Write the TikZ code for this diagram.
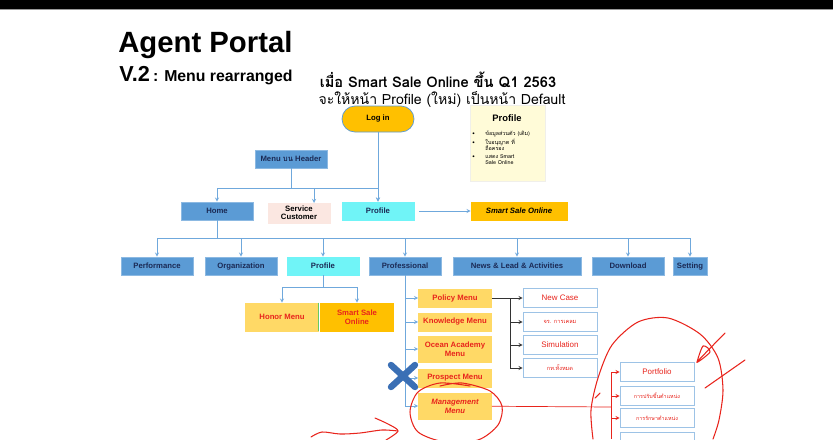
\documentclass[tikz,border=0pt]{standalone}
\usepackage{fontspec}
\setmainfont{Liberation Sans}
\newfontfamily\thaifont[Script=Thai]{Loma}
\usetikzlibrary{arrows,positioning,calc}

\definecolor{menublue}{HTML}{5B9BD5}
\definecolor{navytext}{HTML}{1B2A55}
\definecolor{linkblue}{HTML}{6FA8DC}
\definecolor{newcyan}{HTML}{70F4F7}
\definecolor{subyellow}{HTML}{FFD966}
\definecolor{gold}{HTML}{FFC000}
\definecolor{svcpink}{HTML}{FBE7E1}
\definecolor{notebg}{HTML}{FFFBD8}
\definecolor{leafedge}{HTML}{9DC3E6}
\definecolor{inkred}{HTML}{E8241C}
\definecolor{crossblue}{HTML}{3A6FB5}

\newcommand{\boxfont}{\bfseries\fontsize{6.6}{7}\selectfont}

\begin{document}
\begin{tikzpicture}[x=0.03cm, y=-0.03cm, >=stealth, semithick]
    \tikzset{
        boxbase/.style={rectangle, minimum height=0.54cm, minimum width=2.16cm, align=center, inner sep=1pt},
        hdr/.style={boxbase, draw=menublue!70!white, fill=menublue, font=\boxfont, text=navytext, text height=5pt, text depth=1.5pt},
        newpage/.style={hdr, draw=newcyan, fill=newcyan},
        svc/.style={boxbase, draw=svcpink, fill=svcpink, minimum width=1.86cm, minimum height=0.6cm, font=\bfseries\fontsize{6.6}{7}\selectfont, text=black},
        sso/.style={hdr, draw=gold, fill=gold, minimum width=2.88cm, text=black, font=\bfseries\itshape\fontsize{6.6}{7}\selectfont},
        sub/.style={boxbase, draw=subyellow, fill=subyellow, minimum width=2.19cm, font=\bfseries\fontsize{6.6}{7.8}\selectfont, text=inkred},
        leaf/.style={boxbase, draw=leafedge, fill=white, minimum height=0.57cm, minimum width=2.22cm, font=\fontsize{6.8}{7}\selectfont, text=inkred},
        line/.style={draw=linkblue, ->, >=stealth},
        plain/.style={draw=linkblue},
        blackline/.style={draw=black!80, ->, >=stealth},
        redline/.style={draw=inkred, ->, >=stealth},
        ink/.style={draw=inkred, line width=0.9pt, line cap=round, line join=round}
    }
    \useasboundingbox (0,0) rectangle (833,439);

    % Top bar of the screen
    \fill[black] (0,0) rectangle (833,9);
    \draw[black!40, line width=0.8pt] (0,9.5) -- (833,9.5);

    % Titles
    \node[anchor=base west, inner sep=0pt, font=\bfseries\fontsize{25}{28}\selectfont] (title) at (118,52) {Agent Portal};
    \node[anchor=base west, inner sep=0pt] (version) at (119,81) {{\bfseries\fontsize{18.5}{20}\selectfont V.2} {\bfseries\fontsize{13.5}{15}\selectfont : Menu rearranged}};
    \node[font=\thaifont\bfseries\fontsize{12.5}{14}\selectfont, inner sep=0pt] (when) at (438,80) {เมื่อ Smart Sale Online ขึ้น Q1 2563};
    \node[font=\thaifont\fontsize{12}{14}\selectfont, inner sep=0pt] (default) at (442,99) {จะให้หน้า Profile (ใหม่) เป็นหน้า Default};

    % Log in and the note on the new Profile page
    \node[draw=menublue, fill=gold, rounded corners=0.39cm, minimum width=2.16cm, minimum height=0.78cm, font=\boxfont, text=black] (login) at (378,119) {Log in};
    \node[draw=notebg!70!black!20, fill=notebg, anchor=north west, minimum width=2.25cm, minimum height=2.28cm] (note) at (470,105) {};
    \node[font=\bfseries\fontsize{8}{9}\selectfont] (notetitle) at (507,118) {Profile};
    \node[anchor=north west, inner sep=0pt, font=\thaifont\fontsize{4.6}{5.2}\selectfont, align=left] (notelist) at (472,131) {\begin{tabular}{@{}l@{\hspace{9pt}}l@{}}
        \textbullet & ข้อมูลส่วนตัว (เดิม)\\[1pt]
        \textbullet & ใบอนุญาต ที่\\
                    & ถือครอง\\[1pt]
        \textbullet & แสดง Smart\\
                    & Sale Online
    \end{tabular}};

    % Header row
    \node[hdr] (header) at (291,159) {Menu {\thaifont บน} Header};
    \node[hdr] (home) at (217,211) {Home};
    \node[svc] (service) at (299,213) {Service\\Customer};
    \node[newpage] (profile) at (378,211) {Profile};
    \node[sso] (smartsale) at (519,211) {Smart Sale Online};

    % Menu row under Home
    \node[hdr] (perf) at (157,266) {Performance};
    \node[hdr] (org) at (241,266) {Organization};
    \node[newpage] (profile2) at (323,266) {Profile};
    \node[hdr] (prof) at (405,266) {Professional};
    \node[hdr, minimum width=3.84cm] (news) at (517,266) {News \& Lead \& Activities};
    \node[hdr] (download) at (628,266) {Download};
    \node[hdr, minimum width=1.02cm] (setting) at (690,266) {Setting};

    % Under the new Profile
    \node[sub, minimum height=0.84cm] (honor) at (282,317) {Honor Menu};
    \node[sub, draw=gold, fill=gold, minimum height=0.84cm] (smartsale2) at (357,317) {Smart Sale\\Online};
    \draw[black!35!green!60, line width=1pt] (honor.north east) -- (honor.south east);

    % Under Professional
    \node[sub] (policy) at (455,298) {Policy Menu};
    \node[sub] (knowledge) at (455,322) {Knowledge Menu};
    \node[sub, minimum height=0.78cm] (ocean) at (455,349) {Ocean Academy\\Menu};
    \node[sub] (prospect) at (455,378) {Prospect Menu};
    \node[sub, minimum height=0.78cm, font=\bfseries\itshape\fontsize{6.6}{7.8}\selectfont] (mgmt) at (455,406) {Management\\Menu};

    % Under Policy Menu
    \node[leaf] (newcase) at (560,298) {New Case};
    \node[leaf, font=\thaifont\fontsize{4.8}{6}\selectfont] (compare) at (560,322) {จร. การเคลม};
    \node[leaf] (simulation) at (560,345) {Simulation};
    \node[leaf, font=\thaifont\fontsize{4.8}{6}\selectfont] (allplans) at (560,368) {กท.ทั้งหมด};

    % Under Management Menu
    \node[leaf] (portfolio) at (657,372) {Portfolio};
    \node[leaf, font=\thaifont\fontsize{4.6}{6}\selectfont] (promote) at (657,396) {การปรับขึ้นตำแหน่ง};
    \node[leaf, font=\thaifont\fontsize{4.6}{6}\selectfont] (keep) at (657,418) {การรักษาตำแหน่ง};
    \node[leaf, anchor=north] (team) at (657,432) {};

    % Connections from Log in and the header menu
    \path[line] (login) -- (profile);
    \coordinate (hsplit) at (291,188);
    \coordinate (svcin) at (314,203);
    \path[plain] (header) -- (hsplit);
    \path[line] (hsplit) -| (home);
    \path[line] (hsplit) -| (svcin);
    \path[line] (hsplit) -| (profile);
    \path[line, shorten <=4pt] (profile) -- (smartsale);

    % Connections from Home
    \coordinate (hsplit2) at (217,238);
    \path[plain] (home) -- (hsplit2);
    \foreach \n in {perf,org,profile2,prof,news,download,setting}
        \path[line] (hsplit2) -| (\n);

    % Connections from the new Profile
    \coordinate (psplit) at (323,287);
    \path[plain] (profile2) -- (psplit);
    \path[line] (psplit) -| (honor);
    \path[line] (psplit) -| (smartsale2);

    % Connections from Professional
    \path[line] (prof.south) |- (mgmt);
    \foreach \n in {policy,knowledge,ocean,prospect}
        \path[line] (\n -| prof.south) -- (\n);

    % Connections from Policy Menu
    \coordinate (bsplit) at (510,298);
    \path[draw=black!80] (policy) -- (bsplit);
    \path[blackline] (bsplit) -- (newcase);
    \foreach \n in {compare,simulation,allplans}
        \path[blackline] (bsplit) |- (\n);

    % Connections from Management Menu
    \coordinate (rsplit) at (611,407);
    \path[draw=inkred] (mgmt) -- (rsplit);
    \path[draw=inkred] (portfolio -| rsplit) -- (611,439);
    \foreach \n in {portfolio,promote,keep}
        \path[redline] (\n -| rsplit) -- (\n);

    % Prospect Menu crossed out
    \draw[crossblue, line width=5.5pt, line cap=round] (391,365) -- (415,387);
    \draw[crossblue, line width=5.5pt, line cap=round] (391,387) -- (415,365);

    % Hand drawn marks
    \draw[ink] plot[smooth] coordinates {(470,386) (440,383) (418,392) (410,412) (418,432) (445,442) (478,440) (498,425) (502,406) (490,391) (462,383) (440,386)};
    \draw[ink] plot[smooth] coordinates {(311,437) (322,432) (340,434) (360,433) (382,430) (398,431)};
    \draw[ink] plot[smooth] coordinates {(375,418) (388,424) (398,431) (386,440)};
    \draw[ink] plot[smooth] coordinates {(593,439) (591,410) (598,378) (612,345) (638,322) (668,318) (700,334) (718,358) (723,390) (719,420) (713,439)};
    \draw[ink] plot[smooth] coordinates {(697,362) (703,346) (710,352) (697,362) (725,333)};
    \draw[ink] (705,388) -- (745,360);
    \draw[ink] (595,398) -- (600,393);
\end{tikzpicture}
\end{document}
